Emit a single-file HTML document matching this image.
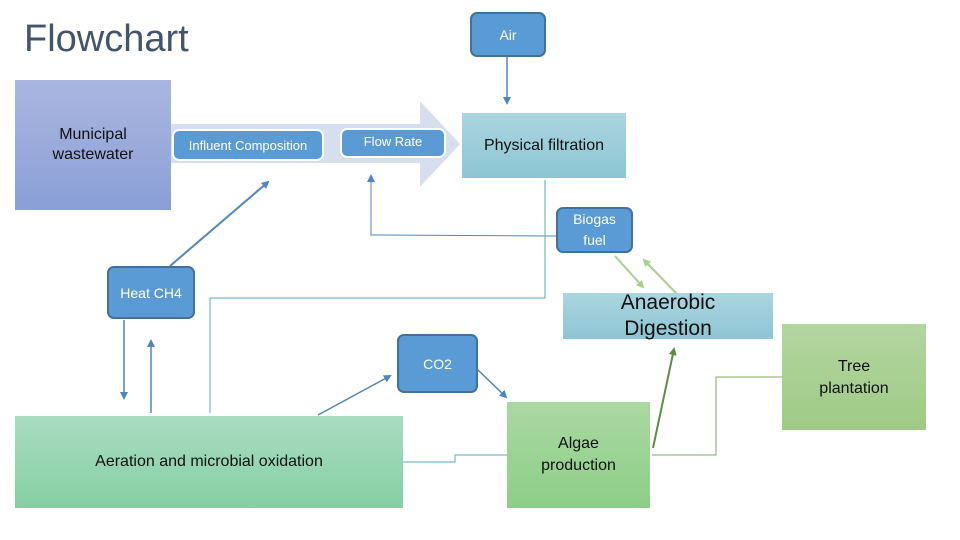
<!DOCTYPE html>
<html><head><style>
body{margin:0;width:960px;height:540px;background:#fff;position:relative;overflow:hidden;font-family:"Liberation Sans",sans-serif}
.a{position:absolute;display:flex;align-items:center;justify-content:center;text-align:center;box-sizing:border-box}
.b{background:#5b9bd5;color:#fff;border:2px solid #41719c;border-radius:7px;font-size:14px}
</style></head><body>
<div class="a" style="left:24px;top:18px;font-size:38px;color:#44546a;justify-content:flex-start">Flowchart</div>
<div class="a" style="left:15px;top:80px;width:156px;height:130px;background:linear-gradient(#aab6e0,#8a9fd6);align-items:flex-start;padding-top:45px;font-size:16px;line-height:20px;color:#111">Municipal<br>wastewater</div>
<svg style="position:absolute;left:0;top:0" width="960" height="540">
<polygon points="171,124 420,124 420,101 460,144 420,187 420,163 171,163" fill="#d7deee"/>
<defs>
<marker id="mb" markerWidth="8" markerHeight="8" refX="6" refY="4" orient="auto" markerUnits="userSpaceOnUse"><path d="M0,0 L8,4 L0,8z" fill="#4f86c0"/></marker>
<marker id="mg" markerWidth="8" markerHeight="8" refX="6" refY="4" orient="auto" markerUnits="userSpaceOnUse"><path d="M0,0 L8,4 L0,8z" fill="#a9d08e"/></marker>
<marker id="md" markerWidth="8" markerHeight="8" refX="6" refY="4" orient="auto" markerUnits="userSpaceOnUse"><path d="M0,0 L8,4 L0,8z" fill="#5e8d45"/></marker>
</defs>
<g fill="none" stroke-width="1.5">
<line x1="507" y1="57" x2="507" y2="103" stroke="#4f86c0" marker-end="url(#mb)"/>
<line x1="170" y1="266" x2="268" y2="182" stroke="#4f86c0" stroke-width="2" marker-end="url(#mb)"/>
<polyline points="556,236 371,235 371,176" stroke="#4f86c0" stroke-width="1" marker-end="url(#mb)"/>
<polyline points="545,180 545,298 210,298 210,413" stroke="#5aaab8" stroke-width="1"/>
<line x1="124" y1="320" x2="124" y2="398" stroke="#4f86c0" marker-end="url(#mb)"/>
<line x1="151" y1="413" x2="151" y2="341" stroke="#4f86c0" marker-end="url(#mb)"/>
<line x1="318" y1="415" x2="390" y2="376" stroke="#4f86c0" marker-end="url(#mb)"/>
<line x1="478" y1="370" x2="506" y2="397" stroke="#4f86c0" marker-end="url(#mb)"/>
<polyline points="403,462 455,462 455,455 507,455" stroke="#5aaab8" stroke-width="1"/>
<polyline points="652,455 716,455 716,377 782,377" stroke="#7aac5e" stroke-width="1"/>
<line x1="653" y1="448" x2="674" y2="349" stroke="#5e8d45" stroke-width="2" marker-end="url(#md)"/>
<line x1="615" y1="256" x2="643" y2="287" stroke="#a9d08e" stroke-width="2" marker-end="url(#mg)"/>
<line x1="677" y1="294" x2="644" y2="260" stroke="#a9d08e" stroke-width="2" marker-end="url(#mg)"/>
</g>
</svg>
<div class="a b" style="left:172px;top:129px;width:152px;height:32px;border:2px solid #fff;font-size:13px">Influent Composition</div>
<div class="a b" style="left:340px;top:128px;width:106px;height:30px;border:2px solid #fff;font-size:13px;padding-bottom:3px">Flow Rate</div>
<div class="a" style="left:462px;top:113px;width:164px;height:65px;background:linear-gradient(#abd5e0,#8dc5d3);font-size:16px;color:#111">Physical filtration</div>
<div class="a b" style="left:470px;top:12px;width:76px;height:45px">Air</div>
<div class="a b" style="left:556px;top:207px;width:77px;height:46px;line-height:21px">Biogas<br>fuel</div>
<div class="a" style="left:563px;top:293px;width:210px;height:46px;background:linear-gradient(#abd5e0,#8dc5d3);font-size:21px;line-height:26px;color:#111">Anaerobic<br>Digestion</div>
<div class="a b" style="left:107px;top:266px;width:88px;height:53px;align-items:flex-start;padding-top:17px">Heat CH4</div>
<div class="a b" style="left:397px;top:334px;width:81px;height:59px;align-items:flex-start;padding-top:20px">CO2</div>
<div class="a" style="left:782px;top:324px;width:144px;height:106px;background:linear-gradient(#b3d5a0,#9fca85);font-size:16px;line-height:22px;color:#111;align-items:flex-start;padding-top:32px">Tree<br>plantation</div>
<div class="a" style="left:507px;top:402px;width:143px;height:106px;background:linear-gradient(#abd8a2,#8cce88);font-size:16px;line-height:22px;color:#111;align-items:flex-start;padding-top:31px">Algae<br>production</div>
<div class="a" style="left:15px;top:416px;width:388px;height:92px;background:linear-gradient(#a9dcc1,#85cfa3);font-size:16px;color:#111">Aeration and microbial oxidation</div>
</body></html>
